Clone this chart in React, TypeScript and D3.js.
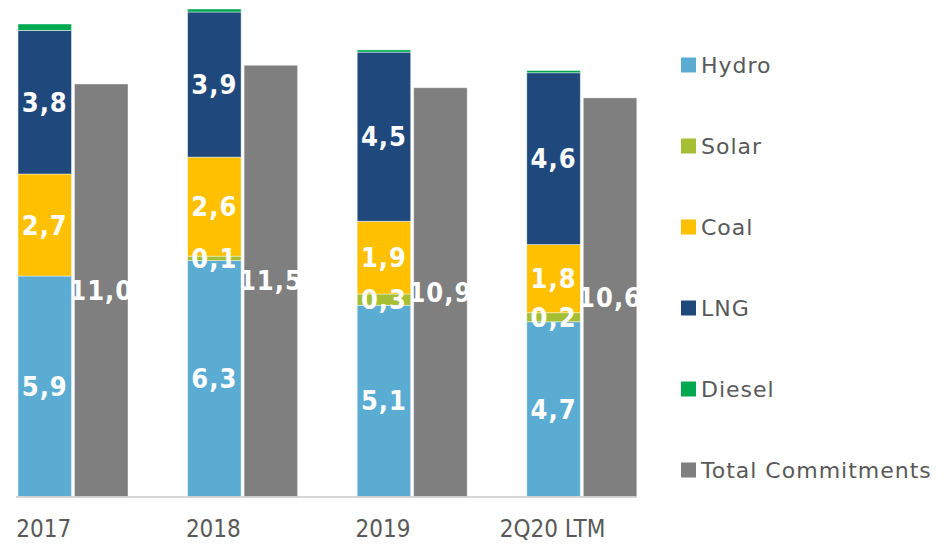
import React from 'react';
import * as d3 from 'd3';

const categories = ['2017', '2018', '2019', '2Q20 LTM'];
const hydro = [5.88, 6.29, 5.1, 4.66];
const solar = [0, 0.12, 0.3, 0.24];
const coal = [2.72, 2.64, 1.94, 1.82];
const lng = [3.83, 3.87, 4.51, 4.58];
const diesel = [0.17, 0.08, 0.06, 0.06];
const totalCommitments = [11.0, 11.5, 10.9, 10.63];

const stackKeys = ['hydro', 'solar', 'coal', 'lng', 'diesel'];
const seriesNames = ['Hydro', 'Solar', 'Coal', 'LNG', 'Diesel', 'Total Commitments'];
const seriesColors = ['#5BACD3', '#A5BE33', '#FFC000', '#1F497D', '#00A84F', '#7F7F7F'];
const labelledKeys = ['hydro', 'solar', 'coal', 'lng'];

const W = 950;
const H = 544;

export default function App() {
  const table = categories.map((c, i) => ({
    cat: c,
    hydro: hydro[i],
    solar: solar[i],
    coal: coal[i],
    lng: lng[i],
    diesel: diesel[i],
    total: totalCommitments[i],
  }));

  const stacked = d3.stack<any>().keys(stackKeys)(table);

  const y = d3.scaleLinear().domain([0, 12]).range([496.5, 46.5]);
  const xOuter = d3.scaleBand<string>().domain(categories).range([-11.8, 666.6]);
  const groupW = 110;
  const xInner = d3.scaleBand<string>().domain(['stack', 'total']).range([0, groupW]).paddingInner(0.053);
  const groupStart = (c: string) => (xOuter(c) as number) + (xOuter.bandwidth() - groupW) / 2;
  const bw = xInner.bandwidth();
  const fmt = (v: number) => d3.format('.1f')(v).replace('.', ',');

  const labelFont = "'DejaVu Sans Condensed', 'DejaVu Sans', sans-serif";

  return (
    <svg width={W} height={H} style={{ position: 'absolute', left: 0, top: 0, background: '#fff' }}>
      {/* stacked bars */}
      {stacked.map((s, si) => (
        <g key={s.key}>
          {s.map((d, i) => {
            const c = categories[i];
            const x = groupStart(c) + (xInner('stack') as number);
            const y0 = y(d[0]);
            const y1 = y(d[1]);
            if (y0 - y1 <= 0) return null;
            return (
              <rect key={c} x={x} y={y1} width={bw} height={y0 - y1} fill={seriesColors[si]}
                stroke="#ffffff" strokeOpacity={0.55} strokeWidth={0.8} />
            );
          })}
        </g>
      ))}
      {/* total bars */}
      {table.map((d) => {
        const x = groupStart(d.cat) + (xInner('total') as number);
        return (
          <rect key={d.cat} x={x} y={y(d.total)} width={bw} height={y(0) - y(d.total)} fill={seriesColors[5]}
            stroke="#ffffff" strokeOpacity={0.5} strokeWidth={0.8} />
        );
      })}
      {/* axis line */}
      <line x1={16} x2={637} y1={497} y2={497} stroke="#C8C8C8" strokeWidth={1.5} />
      {/* stacked labels */}
      {stacked.map((s) =>
        labelledKeys.includes(s.key)
          ? s.map((d, i) => {
              const v = (d.data as any)[s.key] as number;
              if (v < 0.1) return null;
              const c = categories[i];
              const x = groupStart(c) + (xInner('stack') as number) + bw / 2;
              return (
                <text key={s.key + c} x={x} y={(y(d[0]) + y(d[1])) / 2} textAnchor="middle"
                  dominantBaseline="central" fill="#fff" fontFamily={labelFont} fontWeight="bold" fontSize={27}
                  letterSpacing={1}>
                  {fmt(v)}
                </text>
              );
            })
          : null
      )}
      {/* total labels */}
      {table.map((d) => {
        const x = groupStart(d.cat) + (xInner('total') as number) + bw / 2;
        return (
          <text key={'t' + d.cat} x={x} y={(y(d.total) + y(0)) / 2} textAnchor="middle" dominantBaseline="central"
            fill="#fff" fontFamily={labelFont} fontWeight="bold" fontSize={27} letterSpacing={1}>
            {fmt(d.total)}
          </text>
        );
      })}
      {/* category labels */}
      {categories.map((c) => (
        <text key={'c' + c} x={groupStart(c) + (xInner('stack') as number) + bw / 2 - 1} y={537}
          textAnchor="middle" fill="#595959" fontFamily={labelFont} fontSize={24}>
          {c}
        </text>
      ))}
      {/* legend */}
      {seriesNames.map((n, i) => {
        const cy = 65 + i * 81;
        return (
          <g key={'l' + n}>
            <rect x={681} y={cy - 7.5} width={15} height={15} fill={seriesColors[i]} />
            <text x={701} y={cy} dominantBaseline="central" fill="#595959"
              fontFamily="'DejaVu Sans', sans-serif" fontSize={22} letterSpacing={1}>
              {n}
            </text>
          </g>
        );
      })}
    </svg>
  );
}
